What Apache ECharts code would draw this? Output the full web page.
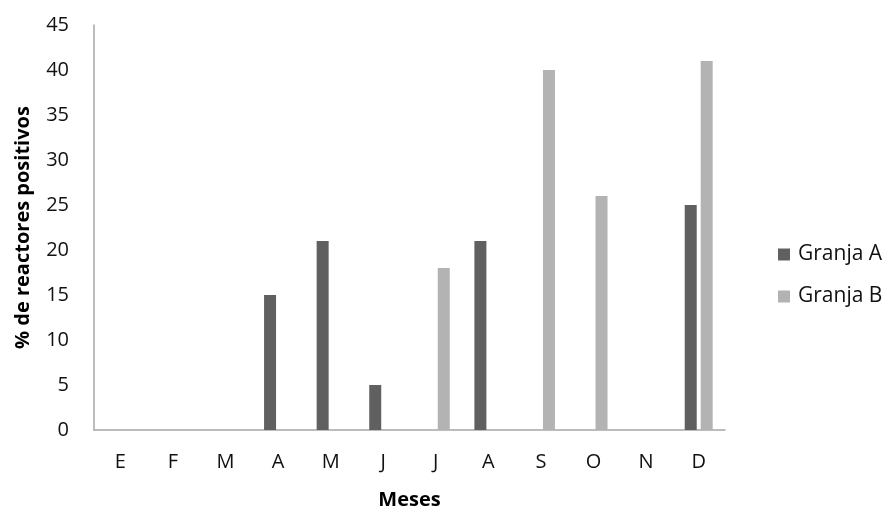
<!DOCTYPE html>
<html>
<head>
<meta charset="utf-8">
<script src="https://cdn.jsdelivr.net/npm/echarts@6/dist/echarts.min.js"></script>
<style>html,body{margin:0;padding:0;background:#fff;}#c{width:885px;height:515px;}</style>
</head>
<body>
<div id="c"></div>
<script>
const months = ['E','F','M','A','M','J','J','A','S','O','N','D'];
const granjaA = [0,0,0,15,21,5,0,21,0,0,0,25];
const granjaB = [0,0,0,0,0,0,18,0,40,26,0,41];
const seriesNames = ['Granja A','Granja B'];
const xAxisTitle = 'Meses';
const yAxisTitle = '% de reactores positivos';

const FONT = '"Open Sans", sans-serif';
const chart = echarts.init(document.getElementById('c'), null, {renderer:'canvas'});
chart.setOption({
  animation: false,
  backgroundColor: '#fff',
  grid: {left: 94, right: 160, top: 25, bottom: 80.5, containLabel: false},
  legend: {
    orient: 'vertical', left: 773, top: 239,
    itemWidth: 12, itemHeight: 12, itemGap: 21, icon: 'rect',
    data: seriesNames,
    textStyle: {fontFamily: FONT, fontSize: 21, color: '#111', padding: [0,0,0,3]}
  },
  xAxis: {
    type: 'category', data: months,
    axisLine: {show: true, lineStyle: {color: '#a6a6a6', width: 1.5}},
    axisTick: {show: false},
    axisLabel: {fontFamily: FONT, fontSize: 20, color: '#111', margin: 22},
    name: xAxisTitle, nameLocation: 'middle', nameGap: 60,
    nameTextStyle: {fontFamily: FONT, fontSize: 20, fontWeight: 'bold', color: '#000'}
  },
  yAxis: {
    type: 'value', min: 0, max: 45, interval: 5,
    axisLine: {show: true, lineStyle: {color: '#a6a6a6', width: 1.5}},
    axisTick: {show: false},
    splitLine: {show: false},
    axisLabel: {fontFamily: FONT, fontSize: 20, color: '#111', margin: 25},
    name: yAxisTitle, nameLocation: 'middle', nameGap: 61,
    nameTextStyle: {fontFamily: FONT, fontSize: 20, fontWeight: 'bold', color: '#000'}
  },
  series: [
    {name: seriesNames[0], type: 'bar', data: granjaA, barWidth: 12, barGap: '33%',
     itemStyle: {color: '#606060'}},
    {name: seriesNames[1], type: 'bar', data: granjaB, barWidth: 12, barGap: '33%',
     itemStyle: {color: '#b3b3b3'}}
  ]
});
</script>
</body>
</html>
